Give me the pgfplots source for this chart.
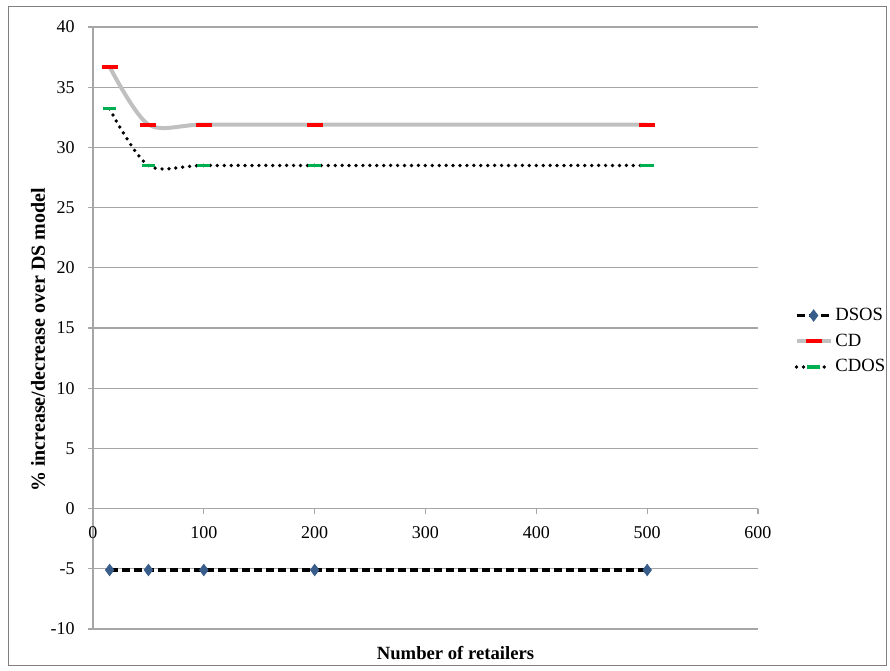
\documentclass[border=0pt]{standalone}
\usepackage{pgfplots}
\pgfplotsset{compat=1.18}
\usepackage{fontspec}
\setmainfont{Liberation Serif}
\definecolor{gridgray}{HTML}{A6A6A6}
\definecolor{cdgray}{HTML}{C0C0C0}
\definecolor{mkgreen}{HTML}{00B050}
\definecolor{mkblue}{HTML}{385D8A}
\begin{document}
\fontsize{13.5}{16}\selectfont
\begin{tikzpicture}
\begin{axis}[
  scale only axis, width=498.75pt, height=451.5pt,
  at={(0,0)}, anchor=south west,
  xmin=0, xmax=600, ymin=-10, ymax=40,
  axis x line=middle, axis y line=left,
  axis line style={-, color=gridgray, line width=0.8pt},
  hide obscured x ticks=false, hide obscured y ticks=false,
  xtick={0,100,...,600}, ytick={-10,-5,...,40},
  tick align=outside, major tick length=4pt,
  tick style={color=gridgray, line width=0.8pt},
  ymajorgrids, major grid style={color=gridgray, line width=0.8pt},
  /pgf/number format/assume math mode=true,
  ticklabel style={font=\fontsize{13.5}{16}\selectfont},
  xticklabel style={yshift=-5pt},
  yticklabel style={xshift=-5pt},
  xlabel={Number of retailers},
  ylabel={\% increase/decrease over DS model},
  xlabel style={at={(axis description cs:0.5,0)}, anchor=north, yshift=-8pt, xshift=22.5pt, font=\bfseries\fontsize{14}{16}\selectfont},
  ylabel style={at={(axis description cs:-0.0827,0.48)}, anchor=center, font=\bfseries\fontsize{15}{17}\selectfont},
  legend style={at={(axis description cs:1.055,0.478)}, anchor=west, draw=none, fill=none,
    inner xsep=0pt, inner ysep=0pt, outer sep=0pt,
    font=\fontsize{14}{16}\selectfont, row sep=4pt, cells={anchor=west}},
  legend cell align=left,
  legend image code/.code={\draw[mark repeat=2,mark phase=2] plot coordinates {(0cm,0cm)(0.45cm,0cm)(0.9cm,0cm)};},
]
\addplot[black, line width=2.6pt, dash pattern=on 6pt off 3pt,
  mark=diamond*, mark size=4.3pt, mark options={solid, fill=mkblue, draw=mkblue, line width=0.5pt}]
  coordinates {(15,-5.1) (50,-5.1) (100,-5.1) (200,-5.1) (500,-5.1)};
\addlegendentry{DSOS}
\addplot[cdgray, line width=3pt, smooth, tension=0.5,
  mark=-, mark size=6pt, mark options={red, line width=3pt, solid}]
  coordinates {(15,36.7) (50,31.9) (100,31.9) (200,31.9) (500,31.9)};
\addlegendentry{CD}
\addplot[black, line width=2.8pt, line cap=round, dash pattern=on 0pt off 5.2pt, smooth, tension=0.5,
  mark=-, mark size=5pt, mark options={mkgreen, line width=2.3pt, solid, line cap=butt}]
  coordinates {(15,33.2) (50,28.5) (100,28.5) (200,28.5) (500,28.5)};
\addlegendentry{CDOS}
\end{axis}
\draw[color=gray, line width=0.75pt] (-63pt,-27.75pt) rectangle (594.75pt,466.5pt);
\useasboundingbox (-69.75pt,-31.5pt) rectangle (597.75pt,471.75pt);
\end{tikzpicture}
\end{document}
